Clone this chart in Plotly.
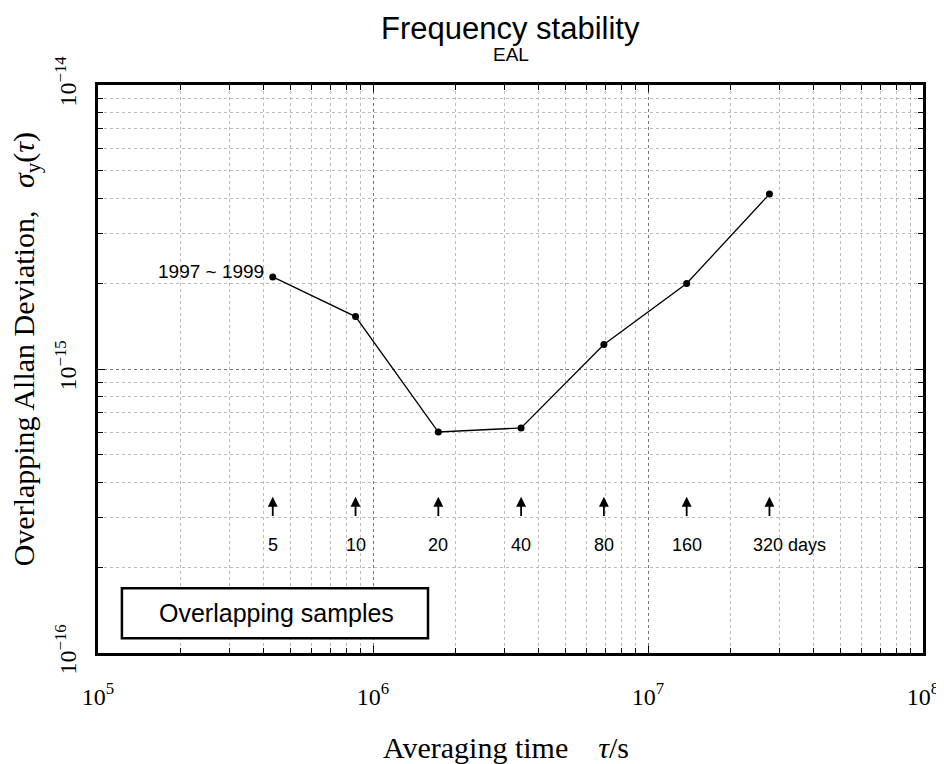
import math
import plotly.graph_objects as go

# ---- data ----
days = [5, 10, 20, 40, 80, 160, 320]
tau_s = [d * 86400 for d in days]
adev = [2.11e-15, 1.53e-15, 6.0e-16, 6.2e-16, 1.22e-15, 2.0e-15, 4.13e-15]
day_labels = ["5", "10", "20", "40", "80", "160", "320 days"]
x_tickvals = [1e5, 1e6, 1e7, 1e8]
x_ticktext = ["10<sup>5</sup>", "10<sup>6</sup>", "10<sup>7</sup>", "10<sup>8</sup>"]
y_tickvals = [1e-16, 1e-15, 1e-14]
y_ticktext = ["10<sup>−16</sup>", "10<sup>−15</sup>", "10<sup>−14</sup>"]
period_label = "1997 ~ 1999"

ARROW_TIP = 3.55e-16
ARROW_TAIL = 3.0e-16
LABEL_Y = 2.4e-16

SERIF = "Liberation Serif, Times New Roman, serif"
SANS = "Liberation Sans, Arial, sans-serif"

x_minor = [m * 10 ** e for e in range(5, 8) for m in range(2, 10)]
y_minor = [m * 10 ** e for e in range(-16, -14) for m in range(2, 10)]

fig = go.Figure()
fig.add_trace(go.Scatter(
    x=tau_s, y=adev, mode="lines+markers",
    line=dict(color="black", width=1.3),
    marker=dict(color="black", size=7),
    showlegend=False, hoverinfo="skip"))

axis_common = dict(
    type="log", showline=True, linecolor="black", linewidth=2.5, mirror="allticks",
    ticks="inside", ticklen=7, tickcolor="black", tickwidth=1.2, automargin=False,
    showgrid=True, gridcolor="#777", griddash="dot", gridwidth=1.2,
    zeroline=False, tickfont=dict(family=SERIF, size=24, color="black"),
)

fig.update_xaxes(
    **axis_common, range=[5, 8], tickvals=x_tickvals, ticktext=x_ticktext,
    ticklabelstandoff=20, ticklabeloverflow="allow",
    minor=dict(tickvals=x_minor, ticks="inside", ticklen=5, tickcolor="black",
               showgrid=True, gridcolor="#bbb", griddash="dot", gridwidth=1))
fig.update_yaxes(
    **axis_common, range=[-16, -14], tickvals=y_tickvals, ticktext=y_ticktext,
    tickangle=-90, ticklabelstandoff=10,
    minor=dict(tickvals=y_minor, ticks="inside", ticklen=5, tickcolor="black",
               showgrid=True, gridcolor="#bbb", griddash="dot", gridwidth=1))

annotations = []
for t, lab in zip(tau_s, day_labels):
    lx = math.log10(t)
    annotations.append(dict(
        x=lx, y=math.log10(ARROW_TIP), ax=lx, ay=math.log10(ARROW_TAIL),
        xref="x", yref="y", axref="x", ayref="y", text="", showarrow=True,
        arrowhead=2, arrowsize=1.1, arrowwidth=1.8, arrowcolor="black"))
    if lab.endswith("days"):
        annotations.append(dict(
            x=lx, y=math.log10(LABEL_Y), xref="x", yref="y", text=lab,
            showarrow=False, xanchor="left", yanchor="middle", xshift=-18,
            font=dict(family=SANS, size=18, color="black")))
    else:
        annotations.append(dict(
            x=lx, y=math.log10(LABEL_Y), xref="x", yref="y", text=lab,
            showarrow=False, xanchor="center", yanchor="middle",
            font=dict(family=SANS, size=18, color="black")))

annotations.append(dict(
    x=math.log10(tau_s[0]), y=math.log10(adev[0]), xref="x", yref="y",
    text=period_label, showarrow=False, xanchor="right", yanchor="middle",
    xshift=-7, yshift=5,
    font=dict(family=SANS, size=19, color="black")))

annotations.append(dict(
    x=0.216, y=0.070, xref="paper", yref="paper", text="Overlapping samples",
    showarrow=False, xanchor="center", yanchor="middle",
    font=dict(family=SANS, size=25, color="black")))

annotations.append(dict(
    x=0.5, y=1.100, xref="paper", yref="paper", text="Frequency stability",
    showarrow=False, xanchor="center", yanchor="middle",
    font=dict(family=SANS, size=31, color="black")))
annotations.append(dict(
    x=0.5, y=1.053, xref="paper", yref="paper", text="EAL",
    showarrow=False, xanchor="center", yanchor="middle",
    font=dict(family=SANS, size=19, color="black")))

annotations.append(dict(
    x=-0.087, y=0.535, xref="paper", yref="paper", textangle=-90,
    text="Overlapping Allan Deviation,   <i>σ</i><sub>y</sub>(<i>τ</i>)",
    showarrow=False, xanchor="center", yanchor="middle",
    font=dict(family=SERIF, size=30, color="black")))
annotations.append(dict(
    x=0.4945, y=-0.167, xref="paper", yref="paper",
    text="Averaging time    <i>τ</i>/s",
    showarrow=False, xanchor="center", yanchor="middle",
    font=dict(family=SERIF, size=30, color="black")))

# page body adds ~8px offset; compensate so plot area sits at x 98-923, y 85-653
fig.update_layout(
    width=936, height=756,
    margin=dict(l=90, r=21, t=77, b=111),
    paper_bgcolor="white", plot_bgcolor="white",
    annotations=annotations,
    shapes=[dict(type="rect", xref="paper", yref="paper",
                 x0=0.029, x1=0.400, y0=0.026, y1=0.114,
                 line=dict(color="black", width=2.5), fillcolor="white", layer="above")],
)

fig.write_html("out.html")
